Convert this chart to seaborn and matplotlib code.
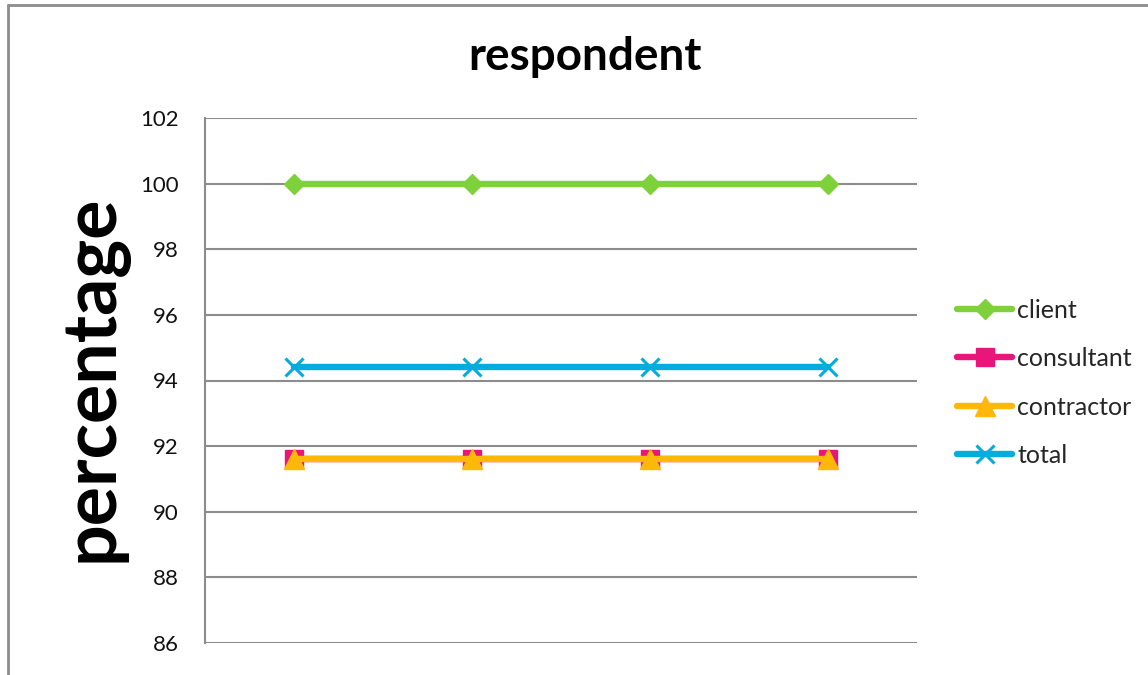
import numpy as np, pandas as pd, matplotlib.pyplot as plt
import seaborn as sns
from matplotlib.lines import Line2D

# data
points = [1, 2, 3, 4]
client = [100, 100, 100, 100]
consultant = [91.6, 91.6, 91.6, 91.6]
contractor = [91.6, 91.6, 91.6, 91.6]
total = [94.4, 94.4, 94.4, 94.4]
yticks = [86, 88, 90, 92, 94, 96, 98, 100, 102]

series = {"client": client, "consultant": consultant,
          "contractor": contractor, "total": total}
colors = {"client": "#7fd13b", "consultant": "#ea157a",
          "contractor": "#feb80a", "total": "#00addc"}
markers = {"client": "D", "consultant": "s", "contractor": "^", "total": "x"}
msizes = {"client": 10, "consultant": 13, "contractor": 14, "total": 13}

df = pd.DataFrame([{"point": p, "value": v, "series": name}
                   for name, vals in series.items() for p, v in zip(points, vals)])

sns.set_style("white")
plt.rcParams["font.family"] = ["Lato", "DejaVu Sans"]

fig = plt.figure(figsize=(11.48, 6.75), dpi=100)
ax = fig.add_axes([205/1148, 32/675, 712/1148, 525/675])

for name in series:
    sub = df[df.series == name]
    sns.lineplot(data=sub, x="point", y="value", ax=ax, color=colors[name],
                 lw=4.6, marker=markers[name], markersize=msizes[name],
                 markeredgecolor=colors[name], markeredgewidth=2.2 if name == "total" else 1,
                 label=name, solid_capstyle="round")

ax.set_xlim(0.5, 4.5)
ax.set_ylim(86, 102)
ax.set_yticks(yticks)
ax.set_xticks([])
ax.yaxis.grid(True, color="#8c8c8c", lw=1.5)
ax.set_axisbelow(True)
for s in ["top", "right", "bottom"]:
    ax.spines[s].set_visible(False)
ax.spines["left"].set_color("#8c8c8c")
ax.spines["left"].set_linewidth(1.5)
ax.tick_params(axis="y", labelsize=16, length=0, pad=19, labelcolor="#111111")
ax.set_xlabel("")
ax.set_ylabel("percentage", fontsize=53, fontweight="bold", color="black")
ax.yaxis.set_label_coords(-(205 - 128) / 712, (643 - 378) / 525)
fig.text(585/1148, 1 - 57/675, "respondent", fontsize=33, fontweight="bold",
         ha="center", va="center", color="black")

leg = ax.legend(loc="center left", bbox_to_anchor=(957/1148, 1 - 383/675),
                bbox_transform=fig.transFigure, frameon=False, borderpad=0,
                borderaxespad=0, fontsize=18, labelspacing=1.02,
                handlelength=2.2, handletextpad=0.2)

# outer chart frame (top and left visible)
fig.add_artist(Line2D([8/1148, 1], [1 - 5/675, 1 - 5/675], color="#8c8c8c", lw=2))
fig.add_artist(Line2D([8/1148, 8/1148], [0, 1 - 5/675], color="#8c8c8c", lw=2))

plt.savefig("out.png", dpi=100)
